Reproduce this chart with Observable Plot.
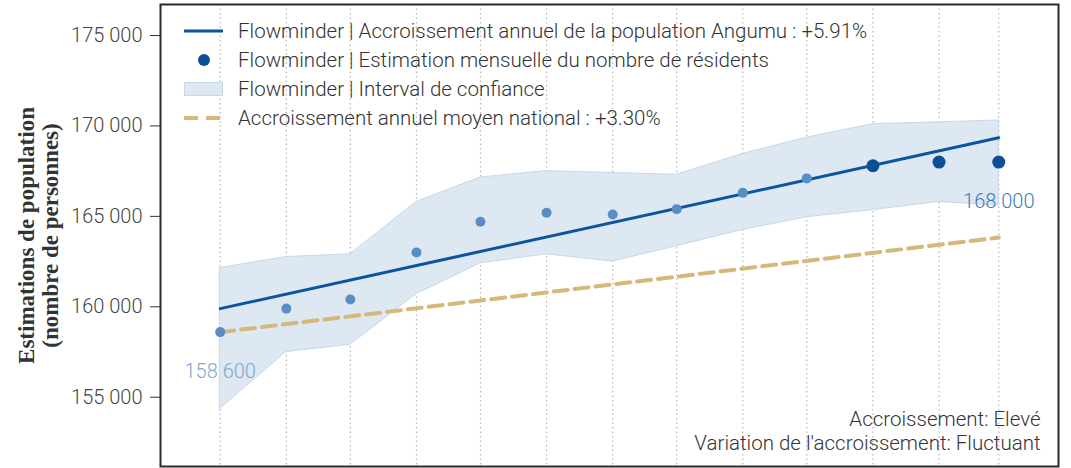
<!DOCTYPE html>
<html>
<head>
<meta charset="utf-8">
<script src="https://cdn.jsdelivr.net/npm/d3@7"></script>
<script src="https://cdn.jsdelivr.net/npm/@observablehq/plot@0.6"></script>
<style>
  html, body { margin: 0; padding: 0; background: #fff; }
  #wrap { position: relative; width: 1071px; height: 468px; overflow: hidden; }
  #legend { position: absolute; left: 184px; top: 17px; font-family: Roboto, sans-serif; font-weight: 300; font-size: 20.5px; color: #333; white-space: nowrap; }
  .row { display: flex; align-items: center; height: 28.8px; }
  .row svg { width: 40px; height: 20px; margin-right: 14px; flex: none; }
</style>
</head>
<body>
<div id="wrap"></div>
<script>
// ---- data ----
const months = ["2022-03-01","2022-04-01","2022-05-01","2022-06-01","2022-07-01","2022-08-01","2022-09-01","2022-10-01","2022-11-01","2022-12-01","2023-01-01","2023-02-01","2023-03-01"];
const estimates = [158600, 159900, 160400, 163000, 164700, 165200, 165100, 165400, 166300, 167100, 167800, 168000, 168000];
const lowerBound = [154350, 157500, 157900, 160700, 162400, 162900, 162500, 163350, 164250, 164950, 165350, 165800, 165600];
const upperBound = [162150, 162750, 162900, 165800, 167150, 167500, 167400, 167300, 168450, 169350, 170100, 170200, 170300];
const pointGroup = ["past","past","past","past","past","past","past","past","past","past","recent","recent","recent"];
const trendDates = ["2022-03-01", "2023-03-01"];
const trendValues = [159900, 169350];
const nationalValues = [158600, 163830];
const yTicks = [155000, 160000, 165000, 170000, 175000];
const legendLabels = [
  "Flowminder | Accroissement annuel de la population Angumu : +5.91%",
  "Flowminder | Estimation mensuelle du nombre de résidents",
  "Flowminder | Interval de confiance",
  "Accroissement annuel moyen national : +3.30%"
];
const yTitle = "Estimations de population\n(nombre de personnes)";
const noteText = "Accroissement: Elevé\nVariation de l'accroissement: Fluctuant";

// ---- tables ----
const parse = s => new Date(s);
const series = months.map((m, i) => ({date: parse(m), est: estimates[i], lo: lowerBound[i], hi: upperBound[i], group: pointGroup[i]}));
const trend = trendDates.map((d, i) => ({date: parse(d), v: trendValues[i]}));
const national = trendDates.map((d, i) => ({date: parse(d), v: nationalValues[i]}));
const fr = d3.formatLocale({decimal: ",", thousands: " ", grouping: [3], currency: ["", " €"]});
const fmt = fr.format(",d");

const C = {
  trend: "#0b559f", dark: "#0b4f96", light: "#5a8ec2",
  band: "#dde8f2", bandStroke: "#c6d8ea", nat: "#d5b97c",
  labLight: "#7ea6cf", labDark: "#3f7ab5"
};

const chart = Plot.plot({
  width: 1071, height: 468,
  marginLeft: 160, marginRight: 13, marginTop: 4, marginBottom: 2,
  style: {fontFamily: "Roboto, sans-serif", fontSize: "20px", fontWeight: 300, color: "#444", background: "#fff"},
  x: {type: "time", domain: [parse("2022-02-01"), parse("2023-03-29")], axis: null},
  y: {domain: [151170, 176715], axis: null},
  marks: [
    Plot.ruleX(series, {x: "date", stroke: "#b5b5b5", strokeWidth: 1.2, strokeDasharray: "1.5,3"}),
    Plot.areaY(series, {x: "date", y1: "lo", y2: "hi", fill: C.band, stroke: C.bandStroke, strokeWidth: 1}),
    Plot.line(national, {x: "date", y: "v", stroke: C.nat, strokeWidth: 4, strokeDasharray: "14,7"}),
    Plot.line(trend, {x: "date", y: "v", stroke: C.trend, strokeWidth: 3}),
    Plot.dot(series.filter(d => d.group === "past"), {x: "date", y: "est", r: 5, fill: C.light, stroke: "none"}),
    Plot.dot(series.filter(d => d.group === "recent"), {x: "date", y: "est", r: 6.5, fill: C.dark, stroke: "none"}),
    Plot.text([series[0]], {x: "date", y: "est", text: d => fmt(d.est), dy: 39, fill: C.labLight, fontSize: 20, fontWeight: 300}),
    Plot.text([series[series.length - 1]], {x: "date", y: "est", text: d => fmt(d.est), dy: 39, fill: C.labDark, fontSize: 20, fontWeight: 300}),
    Plot.axisY({ticks: yTicks, tickFormat: fmt, tickSize: 10, tickPadding: 8, fontSize: 20, stroke: "#333", fill: "#444", label: null}),
    Plot.text([yTitle], {frameAnchor: "left", text: d => d, rotate: -90, dx: -122, lineHeight: 1.02, fontFamily: "Liberation Serif, serif", fontWeight: "bold", fontSize: 23, fill: "#333", textAnchor: "middle", lineAnchor: "middle"}),
    Plot.text([noteText], {frameAnchor: "bottom-right", text: d => d, dx: -18, dy: -17, lineHeight: 1.14, textAnchor: "end", lineAnchor: "bottom", fontSize: 20.5, fontWeight: 300, fill: "#333"}),
    Plot.frame({stroke: "#2a2a2a", strokeWidth: 2})
  ]
});

const wrap = document.getElementById("wrap");
wrap.appendChild(chart);

// legend (HTML overlay inside the plot area)
const swatches = [
  `<svg viewBox="0 0 40 20"><line x1="0" y1="10" x2="39" y2="10" stroke="${C.trend}" stroke-width="3"/></svg>`,
  `<svg viewBox="0 0 40 20"><circle cx="20" cy="10" r="6" fill="${C.dark}"/></svg>`,
  `<svg viewBox="0 0 40 20"><rect x="0.5" y="3.5" width="38" height="13" fill="${C.band}" stroke="${C.bandStroke}"/></svg>`,
  `<svg viewBox="0 0 40 20"><line x1="0" y1="10" x2="39" y2="10" stroke="${C.nat}" stroke-width="4" stroke-dasharray="14,8"/></svg>`
];
const legend = document.createElement("div");
legend.id = "legend";
legend.innerHTML = legendLabels.map((t, i) => `<div class="row">${swatches[i]}<span>${t}</span></div>`).join("");
wrap.appendChild(legend);
</script>
</body>
</html>
